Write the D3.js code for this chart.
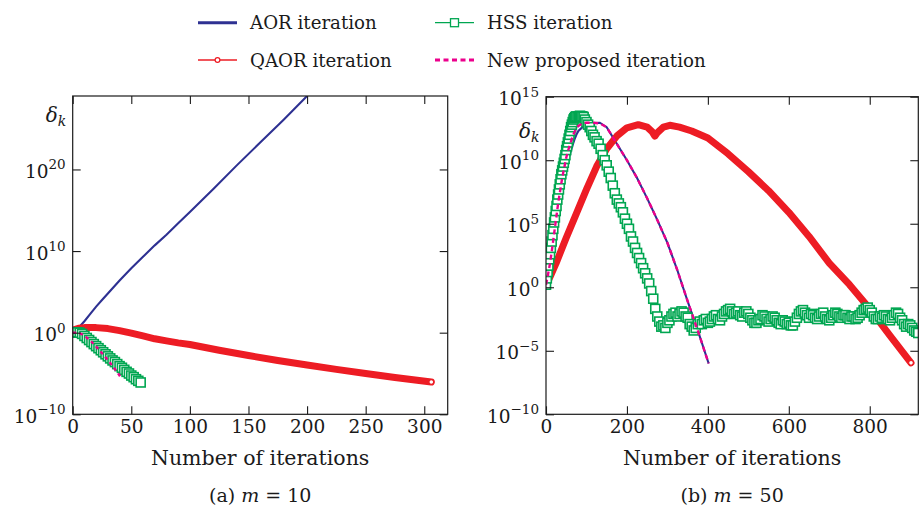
<!DOCTYPE html>
<html>
<head>
<meta charset="utf-8">
<script src="https://cdn.jsdelivr.net/npm/d3@7"></script>
<style>
  body { margin: 0; background: #fff; }
  svg { display: block; }
  svg text { font-family: "DejaVu Serif", serif; }
</style>
</head>
<body>
<svg id="chart" width="919" height="508"></svg>
<script>
// Legend names and colours
const seriesNames = ["AOR iteration", "QAOR iteration", "HSS iteration", "New proposed iteration"];
const seriesColors = ["#2e3192", "#ed1c24", "#00a651", "#ec008c"];

// Values are [iteration, log10(delta_k)]
// (a) m = 10
const aorA = [[0,0],[5,0.6],[10,1.4],[15,2.3],[20,3.2],[25,4.0],[30,4.8],[40,6.4],[50,7.9],[60,9.3],
  [70,10.7],[80,12.0],[90,13.4],[100,14.8],[120,17.6],[140,20.5],[160,23.3],[180,26.1],[200,29.0]];
const qaorA = [[1,0.35],[5,0.55],[10,0.62],[20,0.62],[30,0.5],[40,0.25],[50,-0.05],[60,-0.4],[70,-0.75],
  [80,-1.0],[90,-1.25],[100,-1.45],[125,-2.15],[150,-2.8],[175,-3.4],[200,-3.95],[225,-4.5],[250,-5.0],
  [275,-5.5],[306,-6.05]];
const hssA = [[0,0.0],[2,0.05],[4,0.05],[6,0.0],[8,-0.15],[10,-0.4],[12,-0.65],[14,-0.9],[16,-1.15],
  [18,-1.4],[20,-1.65],[22,-1.9],[24,-2.15],[26,-2.4],[28,-2.65],[30,-2.9],[32,-3.15],[34,-3.4],
  [36,-3.6],[38,-3.85],[40,-4.1],[42,-4.3],[44,-4.55],[46,-4.8],[48,-5.0],[50,-5.25],[52,-5.45],
  [54,-5.7],[56,-5.9],[58,-6.1]];
const newA = [[0,0],[4,0],[8,-0.2],[12,-0.6],[16,-1.1],[20,-1.7],[24,-2.35],[28,-3.0],[32,-3.7],
  [36,-4.45],[40,-5.25],[42,-5.7]];

// (b) m = 50
const aorB = [[0,0.2],[5,0.7],[10,1.3],[15,2.2],[20,3.3],[25,4.4],[30,5.5],[35,6.6],[40,7.6],[45,8.5],
  [50,9.3],[55,10.0],[60,10.6],[65,11.1],[70,11.6],[75,12.0],[80,12.3],[90,12.6],[100,12.8],[115,12.92],
  [133,12.95],[150,12.6],[175,11.3],[200,10.0],[225,8.6],[250,7.0],[275,5.3],[300,3.5],[325,1.3],
  [350,-1.1],[375,-3.4],[402,-6.0]];
const qaorB = [[0,0.1],[25,1.9],[50,3.9],[75,5.8],[100,7.7],[125,9.5],[150,10.9],[175,11.9],[200,12.55],
  [228,12.8],[250,12.6],[262,12.25],[269,11.9],[276,12.2],[290,12.6],[306,12.75],[330,12.6],[360,12.3],
  [400,11.75],[450,10.5],[500,9.1],[550,7.6],[600,5.9],[650,4.0],[700,1.9],[750,0.2],[800,-1.7],
  [850,-3.8],[902,-5.95]];
const hssB = [[0,0.2],[2,0.7],[4,1.2],[6,1.7],[8,2.2],[10,2.6],[12,3.1],[14,3.6],[16,4.1],[18,4.6],
  [20,5.1],[22,5.5],[24,6.0],[26,6.4],[28,6.9],[30,7.3],[32,7.7],[34,8.1],[36,8.5],[38,8.9],[40,9.2],
  [42,9.5],[44,9.8],[46,10.1],[48,10.4],[50,10.8],[52,11.1],[54,11.4],[56,11.7],[58,12.0],[60,12.3],
  [62,12.6],[64,12.8],[66,13.0],[68,13.2],[70,13.3],[72,13.4],[75,13.45],[78,13.4],[81,13.45],
  [84,13.5],[87,13.45],[90,13.45],[93,13.4],[96,13.2],[100,13.0],[104,12.8],[108,12.6],[112,12.3],
  [116,12.0],[120,11.8],[125,11.5],[130,11.3],[135,10.9],[140,10.4],[145,10.0],[150,9.6],[155,9.1],
  [160,8.6],[165,8.0],[170,7.4],[175,6.9],[180,6.6],[185,6.3],[190,5.9],[195,5.4],[200,5.0],[205,4.6],
  [210,4.0],[215,3.6],[220,3.1],[225,2.7],[230,2.3],[235,1.9],[240,1.5],[245,1.1],[250,0.7],[255,0.3],
  [260,-0.3],[265,-0.9],[270,-1.7],[275,-2.3],
  [280,-2.7],[285,-3.1],[290,-3.0],[295,-3.2],[300,-2.8],[305,-2.6],[310,-2.3],[315,-2.1],[320,-2.0],
  [325,-2.3],[330,-2.1],[335,-1.9],[340,-2.0],[345,-2.3],[350,-2.4],[355,-2.9],[360,-3.1],[365,-3.4],
  [370,-3.2],[375,-2.9],[380,-2.7],[385,-2.9],[390,-2.6],[395,-2.5],[400,-2.8],[405,-2.7],[410,-2.5],
  [415,-2.3],[420,-2.2],[425,-2.5],[430,-2.6],[435,-2.3],[440,-2.1],[445,-1.9],[450,-1.8],[455,-1.7],
  [460,-1.9],[465,-2.1],[470,-2.0],[475,-1.9],[480,-2.2],[485,-2.3],[490,-2.0],[495,-1.9],[500,-2.1],
  [505,-2.4],[510,-2.6],[515,-2.8],[520,-2.8],[525,-2.6],[530,-2.5],[535,-2.2],[540,-2.3],[545,-2.5],
  [550,-2.7],[555,-2.5],[560,-2.3],[565,-2.4],[570,-2.6],[575,-2.8],[580,-2.9],[585,-2.6],[590,-2.7],
  [595,-2.9],[600,-2.8],[605,-3.0],[610,-3.0],[615,-2.7],[620,-2.4],[625,-2.1],[630,-1.9],[635,-1.8],
  [640,-2.0],[645,-2.2],[650,-2.4],[655,-2.1],[660,-2.2],[665,-2.4],[670,-2.5],[675,-2.3],[680,-2.1],
  [685,-2.0],[690,-2.3],[695,-2.5],[700,-2.6],[705,-2.4],[710,-2.2],[715,-2.0],[720,-2.1],[725,-2.3],
  [730,-2.4],[735,-2.2],[740,-2.2],[745,-2.4],[750,-2.5],[755,-2.3],[760,-2.3],[765,-2.5],[770,-2.4],
  [775,-2.2],[780,-2.0],[785,-1.8],[790,-1.7],[795,-1.6],[800,-1.8],[805,-2.0],[810,-2.3],[815,-2.5],
  [820,-2.5],[825,-2.3],[830,-2.4],[835,-2.2],[840,-2.3],[845,-2.5],[850,-2.6],[855,-2.4],[860,-2.2],
  [865,-2.0],[870,-2.1],[875,-2.4],[880,-2.6],[885,-2.9],[890,-3.1],[895,-2.9],[900,-3.0],[905,-3.2],
  [910,-3.4],[915,-3.5],[920,-3.6]];
const newB = [[0,0.2],[5,1.0],[10,1.9],[15,3.0],[20,4.2],[25,5.4],[30,6.6],[35,7.6],[40,8.6],[45,9.4],
  [50,10.2],[55,10.8],[60,11.3],[65,11.8],[70,12.2],[75,12.5],[80,12.7],[90,12.9],[100,12.95],
  [115,12.95],[133,12.9],[150,12.6],[175,11.3],[200,10.0],[225,8.6],[250,7.0],[275,5.3],[300,3.5],
  [325,1.3],[350,-1.1],[375,-3.4],[402,-6.0]];

// Axis ticks
const xTicksA = [0, 50, 100, 150, 200, 250, 300];
const yTicksA = [-10, 0, 10, 20];
const xTicksB = [0, 200, 400, 600, 800];
const yTicksB = [-10, -5, 0, 5, 10, 15];
const captions = [["(a) ", "m", " = 10"], ["(b) ", "m", " = 50"]];

const svg = d3.select("#chart");
const ink = "#1a1a1a";

const panels = [
  {id: "a", left: 72.7, right: 447.7, top: 96, bottom: 414.3, xMax: 320, yMin: -10, yMax: 29,
   xTicks: xTicksA, yTicks: yTicksA, aor: aorA, qaor: qaorA, hss: hssA, nw: newA, caption: captions[0],
   dash: "3.5,3.5", labelY: 122},
  {id: "b", left: 546, right: 918.3, top: 96.7, bottom: 414.3, xMax: 920, yMin: -10, yMax: 15,
   xTicks: xTicksB, yTicks: yTicksB, aor: aorB, qaor: qaorB, hss: hssB, nw: newB, caption: captions[1],
   dash: "5,3.5", labelY: 138}
];

function drawPanel(p) {
  const x = d3.scaleLinear().domain([0, p.xMax]).range([p.left, p.right]);
  const y = d3.scaleLog().domain([10 ** p.yMin, 10 ** p.yMax]).range([p.bottom, p.top]);
  const line = d3.line().x(d => x(d[0])).y(d => y(10 ** d[1]));

  svg.append("clipPath").attr("id", "clip-" + p.id)
    .append("rect").attr("x", p.left).attr("y", p.top)
    .attr("width", p.right - p.left).attr("height", p.bottom - p.top);

  const plot = svg.append("g").attr("clip-path", `url(#clip-${p.id})`);

  // AOR
  plot.append("path").datum(p.aor).attr("d", line)
    .attr("fill", "none").attr("stroke", seriesColors[0]).attr("stroke-width", 2.1);

  // QAOR: dense circle markers form a thick band
  plot.append("path").datum(p.qaor).attr("d", line)
    .attr("fill", "none").attr("stroke", seriesColors[1]).attr("stroke-width", 7)
    .attr("stroke-linecap", "round").attr("stroke-linejoin", "round");
  const lastQ = p.qaor[p.qaor.length - 1];
  plot.append("circle").attr("cx", x(lastQ[0])).attr("cy", y(10 ** lastQ[1])).attr("r", 2.4)
    .attr("fill", "#fff").attr("stroke", seriesColors[1]).attr("stroke-width", 1.2);

  // HSS: square markers
  plot.append("path").datum(p.hss).attr("d", line)
    .attr("fill", "none").attr("stroke", seriesColors[2]).attr("stroke-width", 1.3);
  plot.selectAll(".sq").data(p.hss).join("rect")
    .attr("x", d => x(d[0]) - 4.5).attr("y", d => y(10 ** d[1]) - 4.5)
    .attr("width", 9).attr("height", 9)
    .attr("fill", "#fff").attr("stroke", seriesColors[2]).attr("stroke-width", 1.6);

  // New proposed
  plot.append("path").datum(p.nw).attr("d", line)
    .attr("fill", "none").attr("stroke", seriesColors[3]).attr("stroke-width", 2.4)
    .attr("stroke-dasharray", p.dash);

  // Frame
  svg.append("rect").attr("x", p.left).attr("y", p.top)
    .attr("width", p.right - p.left).attr("height", p.bottom - p.top)
    .attr("fill", "none").attr("stroke", ink).attr("stroke-width", 1.2);

  const yVals = p.yTicks.map(e => 10 ** e);

  const gx = svg.append("g").attr("transform", `translate(0,${p.bottom})`)
    .call(d3.axisBottom(x).tickValues(p.xTicks).tickSizeInner(-8).tickSizeOuter(0).tickPadding(6));
  const gxt = svg.append("g").attr("transform", `translate(0,${p.top})`)
    .call(d3.axisTop(x).tickValues(p.xTicks).tickSizeInner(-8).tickSizeOuter(0).tickFormat(() => ""));
  const gy = svg.append("g").attr("transform", `translate(${p.left},0)`)
    .call(d3.axisLeft(y).tickValues(yVals).tickSizeInner(-8).tickSizeOuter(0).tickFormat(() => ""));
  const gyr = svg.append("g").attr("transform", `translate(${p.right},0)`)
    .call(d3.axisRight(y).tickValues(yVals).tickSizeInner(-8).tickSizeOuter(0).tickFormat(() => ""));

  [gx, gxt, gy, gyr].forEach(g => {
    g.attr("font-family", null).attr("font-size", null);
    g.select(".domain").remove();
    g.selectAll(".tick line").attr("stroke", ink).attr("stroke-width", 1.1);
  });
  gx.selectAll(".tick text").attr("font-size", 18.5).attr("fill", ink);

  gy.selectAll(".tick").each(function(d) {
    const e = Math.round(Math.log10(d));
    const t = d3.select(this).append("text")
      .attr("x", -7).attr("y", 8).attr("text-anchor", "end").attr("fill", ink);
    t.append("tspan").attr("font-size", 18.5).text("10");
    t.append("tspan").attr("font-size", 13.5).attr("dy", -8.5)
      .text(e < 0 ? "\u2212" + (-e) : String(e));
  });

  // y label
  const yl = svg.append("text").attr("x", p.left - 27).attr("y", p.labelY)
    .attr("fill", ink).attr("font-style", "italic");
  yl.append("tspan").attr("font-size", 20).text("\u03b4");
  yl.append("tspan").attr("font-size", 14).attr("dy", 4).text("k");

  // x label
  svg.append("text").attr("x", (p.left + p.right) / 2).attr("y", 465)
    .attr("text-anchor", "middle").attr("font-size", 20.5).attr("fill", ink)
    .text("Number of iterations");

  // caption
  const cap = svg.append("text").attr("x", (p.left + p.right) / 2).attr("y", 502)
    .attr("text-anchor", "middle").attr("font-size", 19).attr("fill", ink);
  cap.append("tspan").text(p.caption[0]);
  cap.append("tspan").attr("font-style", "italic").text(p.caption[1]);
  cap.append("tspan").text(p.caption[2]);
}

panels.forEach(drawPanel);

// Legend: two columns, two rows
const legendPos = [[198, 22.7], [198, 60], [435, 22.7], [435, 60]];
const legend = svg.append("g");
seriesNames.forEach((name, i) => {
  const [lx, ly] = legendPos[i];
  const g = legend.append("g").attr("transform", `translate(${lx},${ly})`);
  const ln = g.append("line").attr("x1", 0).attr("x2", 39).attr("y1", 0).attr("y2", 0)
    .attr("stroke", seriesColors[i]);
  if (i === 0) ln.attr("stroke-width", 3);
  if (i === 1) {
    ln.attr("stroke-width", 1.3);
    g.append("circle").attr("cx", 19.5).attr("cy", 0).attr("r", 2.4)
      .attr("fill", "#fff").attr("stroke", seriesColors[i]).attr("stroke-width", 1.2);
  }
  if (i === 2) {
    ln.attr("stroke-width", 1.3);
    g.append("rect").attr("x", 15.5).attr("y", -4).attr("width", 8).attr("height", 8)
      .attr("fill", "#fff").attr("stroke", seriesColors[i]).attr("stroke-width", 1.3);
  }
  if (i === 3) ln.attr("stroke-width", 3).attr("stroke-dasharray", "5,3.5");
  g.append("text").attr("x", 52).attr("y", 6.5).attr("font-size", 18.2).attr("fill", ink).text(name);
});
</script>
</body>
</html>
